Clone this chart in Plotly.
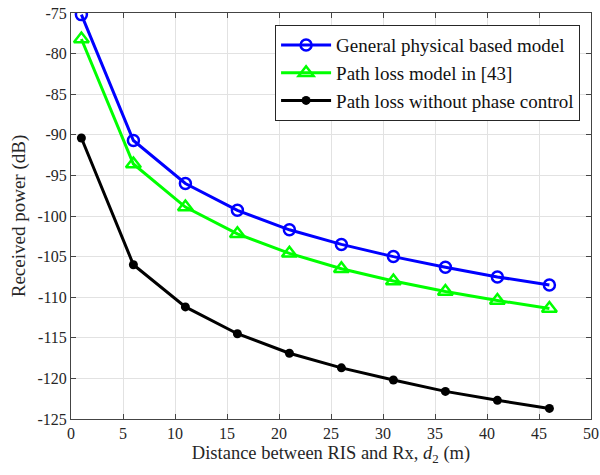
import plotly.graph_objects as go

distance = [1, 6, 11, 16, 21, 26, 31, 36, 41, 46]
general_model = [-75.2, -90.7, -96.0, -99.3, -101.7, -103.5, -105.0, -106.3, -107.5, -108.5]
path_loss_43 = [-78.2, -93.6, -98.9, -102.2, -104.6, -106.5, -108.0, -109.3, -110.4, -111.4]
no_phase_ctrl = [-90.4, -106.0, -111.2, -114.5, -116.9, -118.7, -120.2, -121.6, -122.7, -123.7]

x_ticks = [0, 5, 10, 15, 20, 25, 30, 35, 40, 45, 50]
y_ticks = [-125, -120, -115, -110, -105, -100, -95, -90, -85, -80, -75]
y_tick_labels = ["-125", "-120", "-115", "-110", "-105", "-100", "-95", "-90", "-85", "-80", "-75"]

font_family = "Liberation Serif, Times New Roman, serif"
text_color = "#262626"

fig = go.Figure()
fig.add_trace(go.Scatter(
    x=distance, y=general_model, mode="lines+markers",
    name="General physical based model",
    line=dict(color="#0000ff", width=3),
    marker=dict(symbol="circle-open", size=11, color="#0000ff", line=dict(width=2.5)),
))
fig.add_trace(go.Scatter(
    x=distance, y=path_loss_43, mode="lines+markers",
    name="Path loss model in [43]",
    line=dict(color="#00ff00", width=3),
    marker=dict(symbol="triangle-up-open", size=13, color="#00ff00", line=dict(width=2.5)),
))
fig.add_trace(go.Scatter(
    x=distance, y=no_phase_ctrl, mode="lines+markers",
    name="Path loss without phase control",
    line=dict(color="#000000", width=3),
    marker=dict(symbol="circle", size=9, color="#000000"),
))

axis_common = dict(
    showgrid=True, gridcolor="#e2e2e2", gridwidth=1,
    showline=True, linecolor="#444444", linewidth=1, mirror="ticks",
    ticks="inside", ticklen=5, tickcolor="#444444",
    zeroline=False, automargin=False, ticklabeloverflow="allow",
    tickfont=dict(family=font_family, size=16, color=text_color),
)

fig.update_layout(
    width=600, height=475,
    margin=dict(l=71, r=9, t=13, b=56),
    paper_bgcolor="white", plot_bgcolor="white",
    font=dict(family=font_family, color=text_color),
    xaxis=dict(
        range=[0, 50], tickvals=x_ticks, **axis_common,
        title=dict(text="Distance between RIS and Rx, <i>d</i><sub>2</sub> (m)",
                   font=dict(family=font_family, size=18.5, color=text_color), standoff=4),
    ),
    yaxis=dict(
        range=[-125, -75], tickvals=y_ticks, ticktext=y_tick_labels, **axis_common,
        title=dict(text="Received power (dB)",
                   font=dict(family=font_family, size=19, color=text_color), standoff=6),
    ),
    legend=dict(
        x=0.979, y=0.97, xanchor="right", yanchor="top",
        bgcolor="white", bordercolor="#262626", borderwidth=1,
        font=dict(family=font_family, size=19, color="#111111"),
        tracegroupgap=0, itemwidth=50,
    ),
    showlegend=True,
)

fig.write_html("out.html", config={"displayModeBar": False},
               post_script="document.body.style.margin='0';")
